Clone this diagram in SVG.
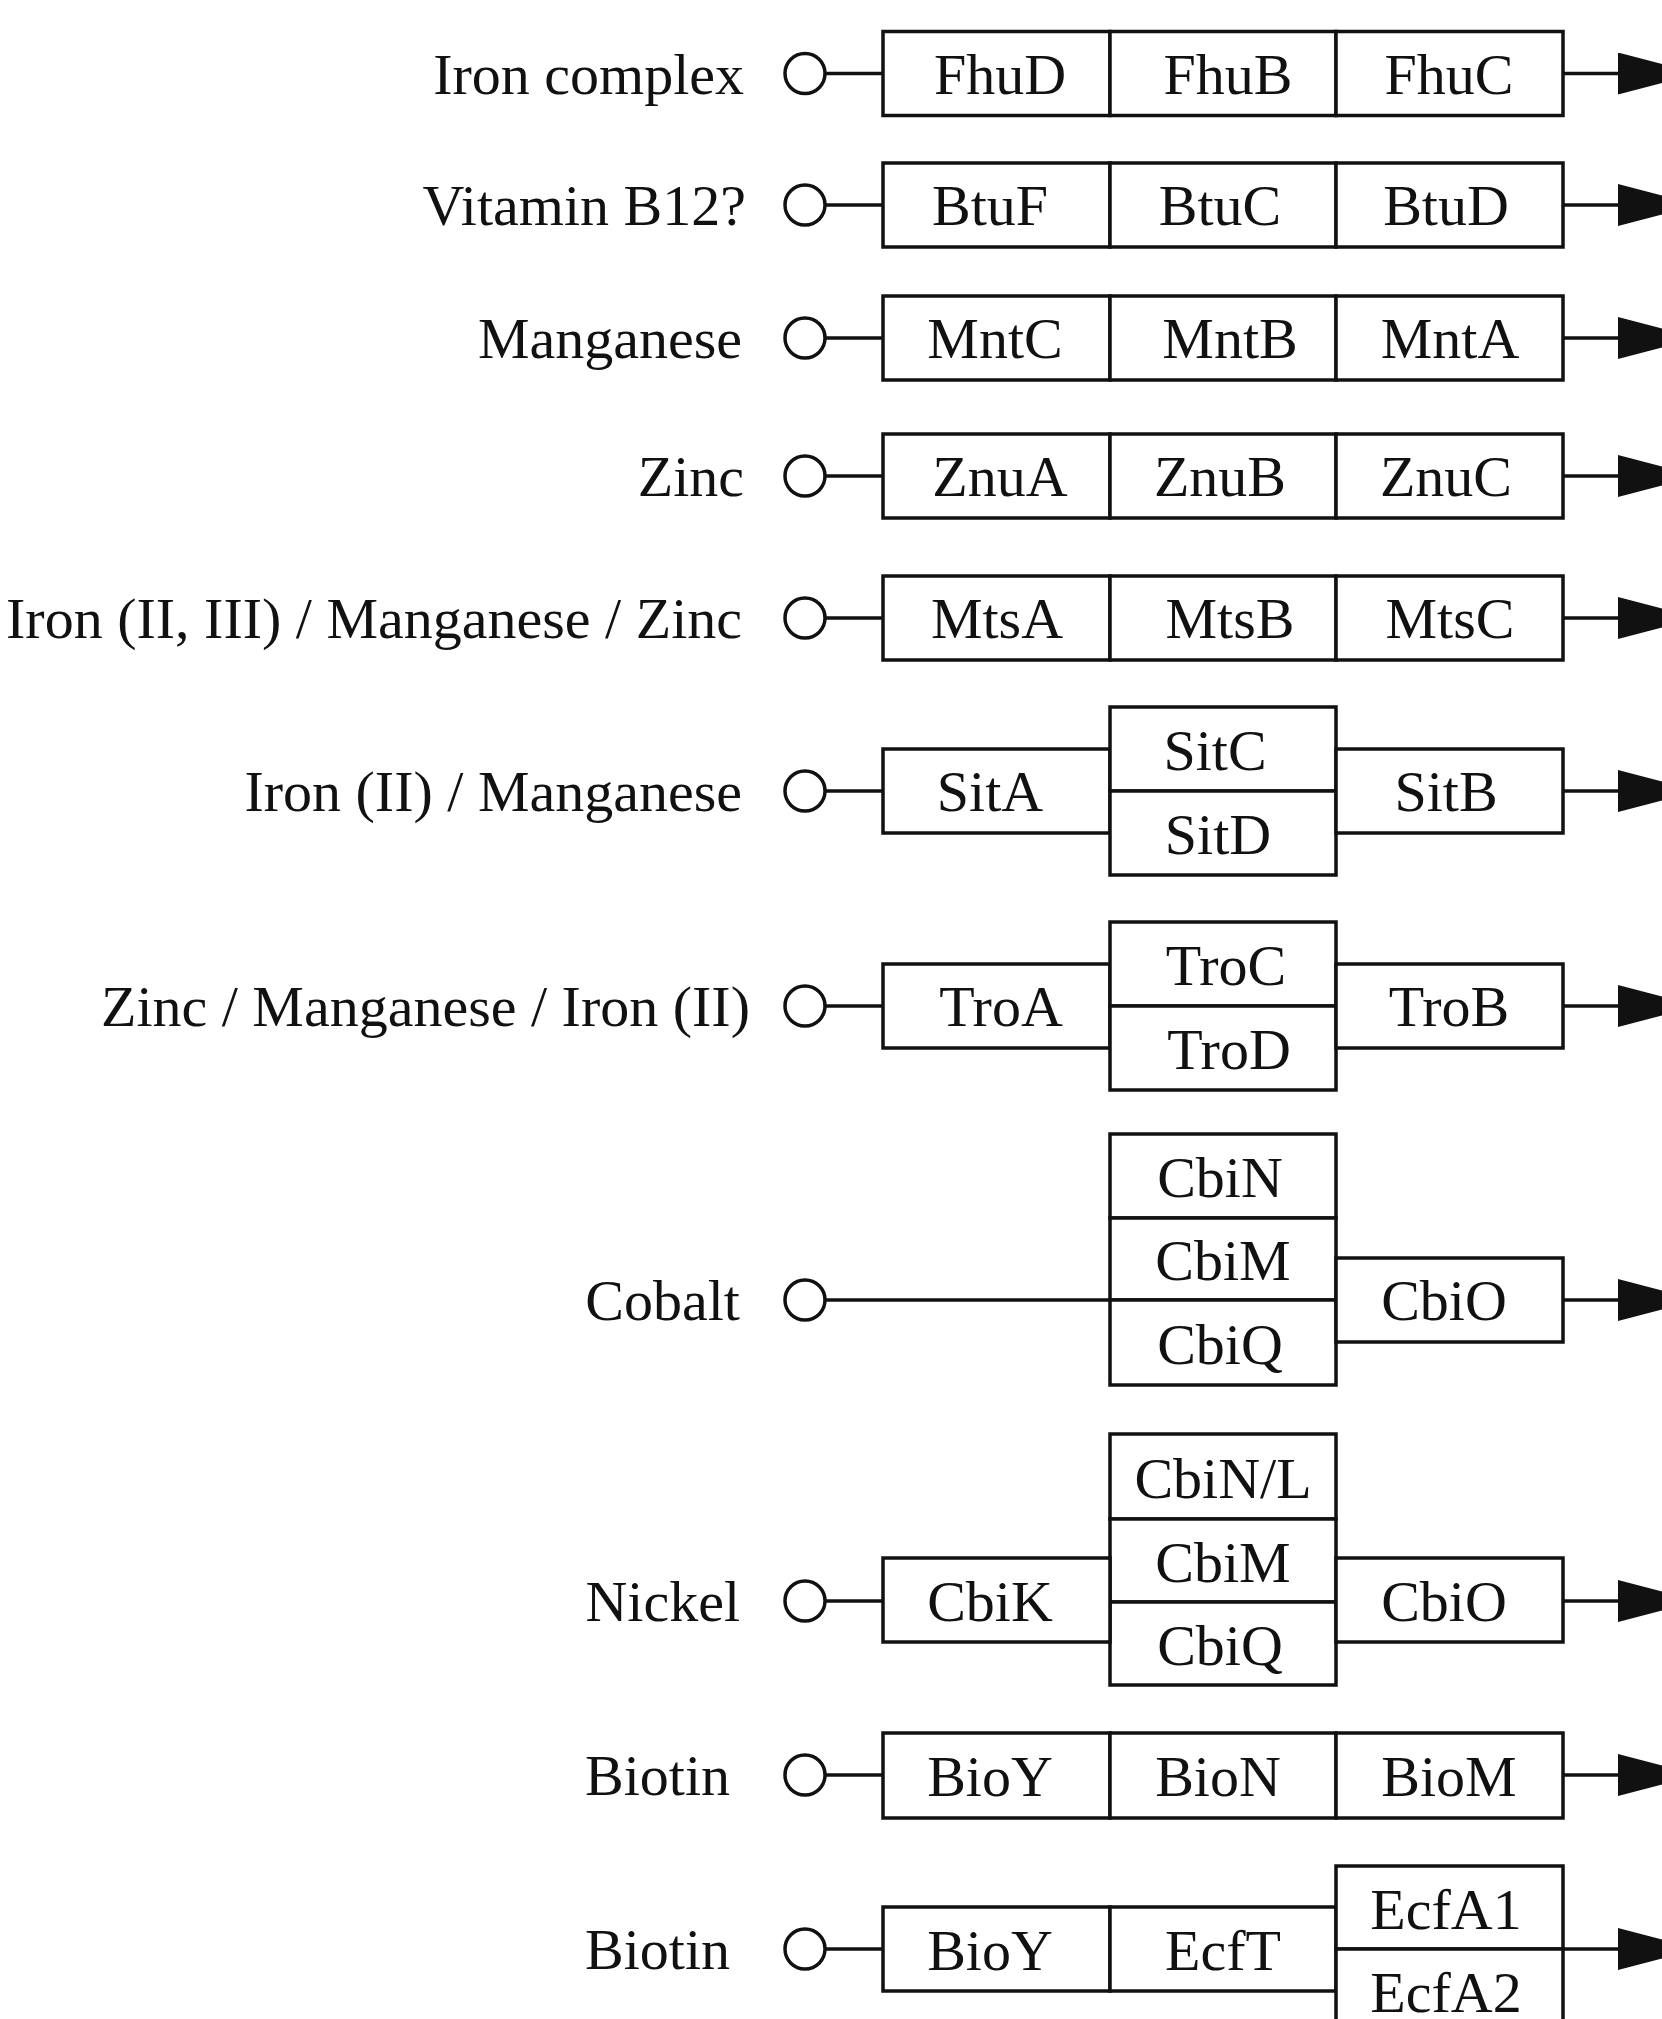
<svg xmlns="http://www.w3.org/2000/svg" width="1662" height="2019" viewBox="0 0 1662 2019">
<style>
text{font-family:"Liberation Serif","Times New Roman",serif;font-size:58px;fill:#111}
.lab{text-anchor:end}
.c{text-anchor:middle}
rect{fill:#fff;stroke:#111;stroke-width:3.5}
circle{fill:#fff;stroke:#111;stroke-width:3.5}
line{stroke:#111;stroke-width:3.5}
</style>
<defs>
<marker id="arr" viewBox="0 0 80 42" refX="0" refY="21" markerWidth="80" markerHeight="42" markerUnits="userSpaceOnUse" orient="auto">
<path d="M0,0 L80,21 L0,42 z" fill="#111"/>
</marker>
</defs>
<rect x="0" y="0" width="1662" height="2019" style="fill:#fff;stroke:none"/>
<g id="connectors">
<line x1="825" y1="73.5" x2="883" y2="73.5"/><line x1="1563" y1="73.5" x2="1618" y2="73.5" marker-end="url(#arr)"/>
<line x1="825" y1="205" x2="883" y2="205"/><line x1="1563" y1="205" x2="1618" y2="205" marker-end="url(#arr)"/>
<line x1="825" y1="338" x2="883" y2="338"/><line x1="1563" y1="338" x2="1618" y2="338" marker-end="url(#arr)"/>
<line x1="825" y1="476" x2="883" y2="476"/><line x1="1563" y1="476" x2="1618" y2="476" marker-end="url(#arr)"/>
<line x1="825" y1="618" x2="883" y2="618"/><line x1="1563" y1="618" x2="1618" y2="618" marker-end="url(#arr)"/>
<line x1="825" y1="791" x2="883" y2="791"/><line x1="1563" y1="791" x2="1618" y2="791" marker-end="url(#arr)"/>
<line x1="825" y1="1006" x2="883" y2="1006"/><line x1="1563" y1="1006" x2="1618" y2="1006" marker-end="url(#arr)"/>
<line x1="825" y1="1300" x2="1110" y2="1300"/><line x1="1563" y1="1300" x2="1618" y2="1300" marker-end="url(#arr)"/>
<line x1="825" y1="1601" x2="883" y2="1601"/><line x1="1563" y1="1601" x2="1618" y2="1601" marker-end="url(#arr)"/>
<line x1="825" y1="1775" x2="883" y2="1775"/><line x1="1563" y1="1775" x2="1618" y2="1775" marker-end="url(#arr)"/>
<line x1="825" y1="1949" x2="883" y2="1949"/><line x1="1563" y1="1949" x2="1618" y2="1949" marker-end="url(#arr)"/>
</g>
<g id="sub-iron-complex"><text class="lab" x="744" y="93.5">Iron complex</text><circle cx="805" cy="73.5" r="20"/></g>
<g id="sub-b12"><text class="lab" x="746" y="225">Vitamin B12?</text><circle cx="805" cy="205" r="20"/></g>
<g id="sub-mn"><text class="lab" x="742" y="358">Manganese</text><circle cx="805" cy="338" r="20"/></g>
<g id="sub-zn"><text class="lab" x="744" y="496">Zinc</text><circle cx="805" cy="476" r="20"/></g>
<g id="sub-fe-mn-zn"><text class="lab" x="742" y="638">Iron (II, III) / Manganese / Zinc</text><circle cx="805" cy="618" r="20"/></g>
<g id="sub-fe-mn"><text class="lab" x="742" y="811">Iron (II) / Manganese</text><circle cx="805" cy="791" r="20"/></g>
<g id="sub-zn-mn-fe"><text class="lab" x="750" y="1026">Zinc / Manganese / Iron (II)</text><circle cx="805" cy="1006" r="20"/></g>
<g id="sub-co"><text class="lab" x="740" y="1320">Cobalt</text><circle cx="805" cy="1300" r="20"/></g>
<g id="sub-ni"><text class="lab" x="740" y="1621">Nickel</text><circle cx="805" cy="1601" r="20"/></g>
<g id="sub-biotin1"><text class="lab" x="730" y="1795">Biotin</text><circle cx="805" cy="1775" r="20"/></g>
<g id="sub-biotin2"><text class="lab" x="730" y="1969">Biotin</text><circle cx="805" cy="1949" r="20"/></g>

<g id="FhuD"><rect x="883" y="31.5" width="227" height="84"/><text class="c" x="1000" y="93.5">FhuD</text></g>
<g id="FhuB"><rect x="1110" y="31.5" width="226" height="84"/><text class="c" x="1228" y="93.5">FhuB</text></g>
<g id="FhuC"><rect x="1336" y="31.5" width="227" height="84"/><text class="c" x="1449" y="93.5">FhuC</text></g>

<g id="BtuF"><rect x="883" y="163" width="227" height="84"/><text class="c" x="990" y="225">BtuF</text></g>
<g id="BtuC"><rect x="1110" y="163" width="226" height="84"/><text class="c" x="1220" y="225">BtuC</text></g>
<g id="BtuD"><rect x="1336" y="163" width="227" height="84"/><text class="c" x="1446" y="225">BtuD</text></g>

<g id="MntC"><rect x="883" y="296" width="227" height="84"/><text class="c" x="995" y="358">MntC</text></g>
<g id="MntB"><rect x="1110" y="296" width="226" height="84"/><text class="c" x="1230" y="358">MntB</text></g>
<g id="MntA"><rect x="1336" y="296" width="227" height="84"/><text class="c" x="1450" y="358">MntA</text></g>

<g id="ZnuA"><rect x="883" y="434" width="227" height="84"/><text class="c" x="1000" y="496">ZnuA</text></g>
<g id="ZnuB"><rect x="1110" y="434" width="226" height="84"/><text class="c" x="1220" y="496">ZnuB</text></g>
<g id="ZnuC"><rect x="1336" y="434" width="227" height="84"/><text class="c" x="1446" y="496">ZnuC</text></g>

<g id="MtsA"><rect x="883" y="576" width="227" height="84"/><text class="c" x="997" y="638">MtsA</text></g>
<g id="MtsB"><rect x="1110" y="576" width="226" height="84"/><text class="c" x="1230" y="638">MtsB</text></g>
<g id="MtsC"><rect x="1336" y="576" width="227" height="84"/><text class="c" x="1450" y="638">MtsC</text></g>

<g id="SitA"><rect x="883" y="749" width="227" height="84"/><text class="c" x="990" y="811">SitA</text></g>
<g id="SitC"><rect x="1110" y="707" width="226" height="84"/><text class="c" x="1215" y="770">SitC</text></g>
<g id="SitD"><rect x="1110" y="791" width="226" height="84"/><text class="c" x="1218" y="854">SitD</text></g>
<g id="SitB"><rect x="1336" y="749" width="227" height="84"/><text class="c" x="1446" y="811">SitB</text></g>

<g id="TroA"><rect x="883" y="964" width="227" height="84"/><text class="c" x="1001" y="1026">TroA</text></g>
<g id="TroC"><rect x="1110" y="922" width="226" height="84"/><text class="c" x="1226" y="985">TroC</text></g>
<g id="TroD"><rect x="1110" y="1006" width="226" height="84"/><text class="c" x="1229" y="1069">TroD</text></g>
<g id="TroB"><rect x="1336" y="964" width="227" height="84"/><text class="c" x="1449" y="1026">TroB</text></g>

<g id="CbiN"><rect x="1110" y="1134" width="226" height="84"/><text class="c" x="1220" y="1197">CbiN</text></g>
<g id="CbiM"><rect x="1110" y="1218" width="226" height="82"/><text class="c" x="1223" y="1280">CbiM</text></g>
<g id="CbiQ"><rect x="1110" y="1300" width="226" height="85"/><text class="c" x="1220" y="1364">CbiQ</text></g>
<g id="CbiO-co"><rect x="1336" y="1258" width="227" height="84"/><text class="c" x="1444" y="1320">CbiO</text></g>

<g id="CbiNL"><rect x="1110" y="1434" width="226" height="85"/><text class="c" x="1223" y="1498">CbiN/L</text></g>
<g id="CbiM-ni"><rect x="1110" y="1519" width="226" height="83"/><text class="c" x="1223" y="1582">CbiM</text></g>
<g id="CbiQ-ni"><rect x="1110" y="1602" width="226" height="83"/><text class="c" x="1220" y="1665">CbiQ</text></g>
<g id="CbiK"><rect x="883" y="1558" width="227" height="84"/><text class="c" x="990" y="1621">CbiK</text></g>
<g id="CbiO-ni"><rect x="1336" y="1558" width="227" height="84"/><text class="c" x="1444" y="1621">CbiO</text></g>

<g id="BioY1"><rect x="883" y="1733" width="227" height="85"/><text class="c" x="990" y="1796">BioY</text></g>
<g id="BioN"><rect x="1110" y="1733" width="226" height="85"/><text class="c" x="1218" y="1796">BioN</text></g>
<g id="BioM"><rect x="1336" y="1733" width="227" height="85"/><text class="c" x="1449" y="1796">BioM</text></g>

<g id="BioY2"><rect x="883" y="1907" width="227" height="84"/><text class="c" x="990" y="1970">BioY</text></g>
<g id="EcfT"><rect x="1110" y="1907" width="226" height="84"/><text class="c" x="1223" y="1970">EcfT</text></g>
<g id="EcfA1"><rect x="1336" y="1866" width="227" height="83"/><text class="c" x="1446" y="1929">EcfA1</text></g>
<g id="EcfA2"><rect x="1336" y="1949" width="227" height="84"/><text class="c" x="1446" y="2012">EcfA2</text></g>
</svg>
